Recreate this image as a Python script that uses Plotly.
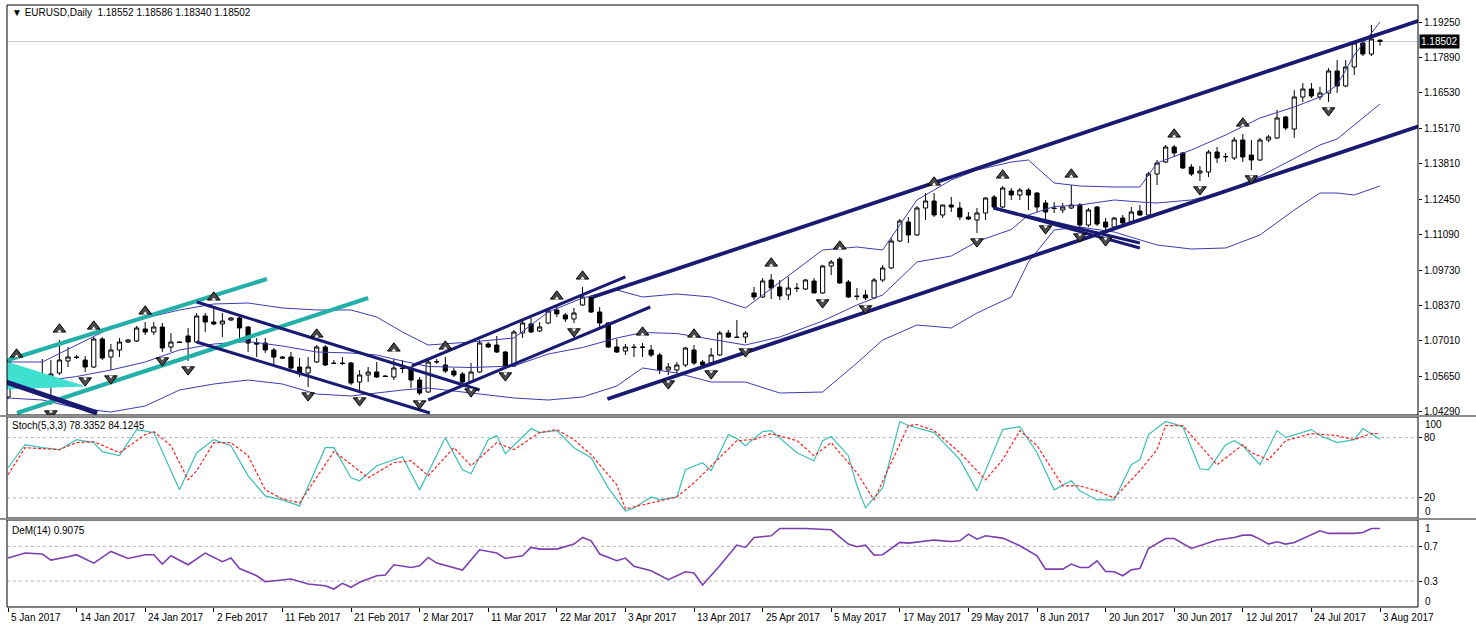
import plotly.graph_objects as go

# ---------------- data ----------------
date_labels = ["5 Jan 2017", "14 Jan 2017", "24 Jan 2017", "2 Feb 2017", "11 Feb 2017",
               "21 Feb 2017", "2 Mar 2017", "11 Mar 2017", "22 Mar 2017", "3 Apr 2017",
               "13 Apr 2017", "25 Apr 2017", "5 May 2017", "17 May 2017", "29 May 2017",
               "8 Jun 2017", "20 Jun 2017", "30 Jun 2017", "12 Jul 2017", "24 Jul 2017",
               "3 Aug 2017"]
date_tick_bars = [0, 8, 16, 24, 32, 40, 48, 56, 64, 72, 80, 88, 96, 104, 112, 120, 128, 136, 144, 152, 160]

opens = [
1.04854, 1.06045, 1.05392, 1.05353, 1.05699, 1.05622, 1.05776, 1.06237, 1.06390, 1.06275,
1.06006, 1.07082, 1.06390, 1.06659, 1.06966, 1.07005, 1.07466, 1.07350, 1.07542, 1.06774,
1.06966, 1.07197, 1.06966, 1.07965, 1.07734, 1.07658, 1.07811, 1.07888, 1.07542, 1.06928,
1.06928, 1.06659, 1.06390, 1.06390, 1.06006, 1.05776, 1.06198, 1.06774, 1.06160, 1.06160,
1.06160, 1.05430, 1.05699, 1.05814, 1.05661, 1.05622, 1.05968, 1.05968, 1.05507, 1.05046,
1.06198, 1.06083, 1.05853, 1.05737, 1.05430, 1.05814, 1.06889, 1.06851, 1.06582, 1.06045,
1.07312, 1.07658, 1.07389, 1.07696, 1.08195, 1.08003, 1.07850, 1.08387, 1.08694, 1.08118,
1.07696, 1.06774, 1.06621, 1.06774, 1.06755, 1.06659, 1.06467, 1.05891, 1.05891, 1.06083,
1.06659, 1.06198, 1.06160, 1.06467, 1.07312, 1.07158, 1.07158, 1.08848, 1.08694, 1.09346,
1.09078, 1.08771, 1.09039, 1.09001, 1.09308, 1.08848, 1.09884, 1.10152, 1.09270, 1.08733,
1.08771, 1.08656, 1.09346, 1.09807, 1.10843, 1.11572, 1.11074, 1.12110, 1.12379, 1.11841,
1.12225, 1.12110, 1.11764, 1.11649, 1.11918, 1.12532, 1.12148, 1.12763, 1.12609, 1.12801,
1.12686, 1.12302, 1.12110, 1.12033, 1.12110, 1.12225, 1.11457, 1.12148, 1.11572, 1.11380,
1.11726, 1.11572, 1.11995, 1.11841, 1.13415, 1.13876, 1.14452, 1.14222, 1.13684, 1.13454,
1.13492, 1.14260, 1.14069, 1.14030, 1.14721, 1.14145, 1.13953, 1.14721, 1.14798, 1.15603,
1.15143, 1.16371, 1.16678, 1.16371, 1.16525, 1.17370, 1.16794, 1.17523, 1.18444, 1.18022,
1.18552]

highs = [
1.06314, 1.06083, 1.05430, 1.05814, 1.06314, 1.06275, 1.07043, 1.06774, 1.06467, 1.06429,
1.07158, 1.07158, 1.06889, 1.07120, 1.07082, 1.07581, 1.07734, 1.07734, 1.07696, 1.07312,
1.07005, 1.07504, 1.08080, 1.08080, 1.08272, 1.08080, 1.07926, 1.08003, 1.07581, 1.07120,
1.07120, 1.06736, 1.06429, 1.06582, 1.06352, 1.06390, 1.06851, 1.06851, 1.06275, 1.06390,
1.06198, 1.05891, 1.06006, 1.06198, 1.05699, 1.06314, 1.06275, 1.06045, 1.05622, 1.06275,
1.06314, 1.06390, 1.05968, 1.05814, 1.06160, 1.07043, 1.06966, 1.07197, 1.06621, 1.07427,
1.07773, 1.07888, 1.07734, 1.08272, 1.08310, 1.08080, 1.08272, 1.09078, 1.08771, 1.08310,
1.07734, 1.07082, 1.06889, 1.06889, 1.06928, 1.06851, 1.06544, 1.06160, 1.06198, 1.06774,
1.06851, 1.06275, 1.06736, 1.07389, 1.07427, 1.07811, 1.07389, 1.09078, 1.09423, 1.09577,
1.09346, 1.09462, 1.09232, 1.09385, 1.09423, 1.09922, 1.10114, 1.10229, 1.09346, 1.09039,
1.08962, 1.09423, 1.09922, 1.10959, 1.11687, 1.11764, 1.12187, 1.12686, 1.12686, 1.12225,
1.12532, 1.12340, 1.11956, 1.12110, 1.12532, 1.12609, 1.12955, 1.12878, 1.12878, 1.12878,
1.12724, 1.12417, 1.12340, 1.12302, 1.12993, 1.12302, 1.12110, 1.12187, 1.11726, 1.11764,
1.11841, 1.12148, 1.12225, 1.13492, 1.13953, 1.14529, 1.14529, 1.14260, 1.13799, 1.13723,
1.14337, 1.14452, 1.14222, 1.14836, 1.14951, 1.14721, 1.14798, 1.14913, 1.15872, 1.15642,
1.16640, 1.16909, 1.16909, 1.16755, 1.17485, 1.17792, 1.17792, 1.18521, 1.18559, 1.19135,
1.18586]

lows = [
1.04778, 1.05238, 1.05238, 1.05161, 1.05238, 1.04548, 1.05699, 1.06006, 1.06314, 1.05814,
1.05968, 1.06275, 1.05891, 1.06390, 1.06928, 1.06966, 1.07235, 1.07235, 1.06582, 1.06582,
1.06928, 1.06237, 1.06928, 1.07350, 1.07619, 1.07158, 1.07773, 1.07120, 1.06582, 1.06390,
1.06544, 1.06083, 1.06314, 1.05929, 1.05622, 1.05238, 1.06160, 1.06045, 1.06121, 1.06083,
1.05315, 1.05046, 1.05430, 1.05584, 1.05622, 1.05507, 1.05776, 1.05200, 1.04931, 1.05008,
1.06121, 1.05776, 1.05622, 1.05277, 1.05392, 1.05776, 1.06736, 1.06544, 1.06006, 1.06006,
1.07120, 1.07312, 1.07350, 1.07658, 1.07926, 1.07734, 1.07696, 1.08349, 1.08080, 1.07542,
1.06736, 1.06544, 1.06467, 1.06390, 1.06390, 1.06390, 1.05737, 1.05699, 1.05776, 1.06006,
1.06083, 1.06006, 1.06083, 1.06429, 1.07120, 1.07120, 1.06928, 1.08579, 1.08656, 1.08617,
1.08579, 1.08579, 1.08886, 1.08962, 1.08848, 1.08810, 1.09538, 1.09193, 1.08656, 1.08579,
1.08579, 1.08617, 1.09270, 1.09768, 1.10805, 1.10766, 1.11036, 1.11649, 1.11764, 1.11726,
1.11956, 1.11649, 1.11649, 1.11151, 1.11649, 1.12110, 1.12110, 1.12417, 1.12417, 1.12033,
1.11956, 1.11649, 1.11918, 1.11918, 1.12071, 1.11342, 1.11380, 1.11419, 1.11189, 1.11342,
1.11496, 1.11534, 1.11803, 1.11803, 1.12993, 1.13838, 1.14069, 1.13607, 1.13339, 1.13147,
1.13300, 1.13838, 1.13876, 1.13953, 1.13876, 1.13569, 1.13915, 1.14644, 1.14760, 1.15105,
1.14798, 1.16179, 1.16333, 1.16256, 1.16179, 1.16525, 1.16755, 1.17216, 1.17945, 1.17945,
1.18340]

closes = [
1.06237, 1.05315, 1.05315, 1.05699, 1.05622, 1.05737, 1.06275, 1.06390, 1.06371, 1.06006,
1.07082, 1.06352, 1.06659, 1.06966, 1.07043, 1.07504, 1.07350, 1.07542, 1.06736, 1.06966,
1.06947, 1.06966, 1.07965, 1.07734, 1.07658, 1.07773, 1.07888, 1.07504, 1.06928, 1.06889,
1.06659, 1.06390, 1.06352, 1.05968, 1.05776, 1.06006, 1.06774, 1.06083, 1.06141, 1.06141,
1.05392, 1.05699, 1.05814, 1.05622, 1.05641, 1.05968, 1.05948, 1.05507, 1.05008, 1.06198,
1.06217, 1.05853, 1.05699, 1.05430, 1.05814, 1.06928, 1.06774, 1.06582, 1.06045, 1.07350,
1.07696, 1.07350, 1.07542, 1.08157, 1.08042, 1.07850, 1.08080, 1.08694, 1.08118, 1.07696,
1.06774, 1.06582, 1.06774, 1.06755, 1.06774, 1.06467, 1.05891, 1.06006, 1.06083, 1.06736,
1.06160, 1.06083, 1.06467, 1.07312, 1.07158, 1.07139, 1.07312, 1.08694, 1.09308, 1.09039,
1.08733, 1.09039, 1.09020, 1.09346, 1.08848, 1.09884, 1.10037, 1.09232, 1.08694, 1.08713,
1.08656, 1.09346, 1.09807, 1.10843, 1.11611, 1.11074, 1.12110, 1.12379, 1.11841, 1.12225,
1.12148, 1.11764, 1.11687, 1.11918, 1.12494, 1.12148, 1.12878, 1.12609, 1.12801, 1.12609,
1.12148, 1.11956, 1.12091, 1.12148, 1.12225, 1.11457, 1.12033, 1.11495, 1.11380, 1.11726,
1.11534, 1.11956, 1.11841, 1.13415, 1.13838, 1.14452, 1.14222, 1.13646, 1.13415, 1.13531,
1.14260, 1.14030, 1.14088, 1.14721, 1.14069, 1.13953, 1.14721, 1.14836, 1.15565, 1.15182,
1.16371, 1.16678, 1.16410, 1.16525, 1.17370, 1.16794, 1.17523, 1.18444, 1.18022, 1.18598,
1.18502]

assert len(opens) == len(highs) == len(lows) == len(closes) == 161
bars = list(range(len(closes)))

# Bollinger bands (read at sample bars)
bb_bars = [0, 4, 8, 12, 16, 20, 24, 28, 32, 36, 40, 43, 46, 49, 54, 59, 63, 67, 71, 74, 78, 82, 86, 90,
           95, 99, 102, 106, 110, 113, 117, 119, 122, 125, 129, 132, 134, 138, 142, 146, 150, 153, 155, 157, 160]
bb_upper = [1.06198, 1.06198, 1.06851, 1.07504, 1.07888, 1.08195, 1.08425, 1.08463, 1.08272, 1.08195,
            1.08195, 1.07926, 1.07350, 1.06851, 1.06966, 1.07120, 1.08118, 1.08656, 1.08962, 1.08694,
            1.08809, 1.08694, 1.08272, 1.09270, 1.10498, 1.10613, 1.10498, 1.12417, 1.13185, 1.13569,
            1.13876, 1.13953, 1.13070, 1.12955, 1.12916, 1.12916, 1.13838, 1.14337, 1.14913, 1.15565,
            1.15988, 1.16371, 1.16832, 1.17984, 1.19250]
bb_middle = [1.05507, 1.05469, 1.05641, 1.05891, 1.06198, 1.06659, 1.06889, 1.06985, 1.06813, 1.06582,
             1.06544, 1.06467, 1.06237, 1.06026, 1.05987, 1.06045, 1.06506, 1.06755, 1.07120, 1.07331,
             1.07293, 1.07062, 1.06851, 1.07158, 1.07773, 1.08387, 1.08771, 1.10037, 1.10268, 1.10824,
             1.11285, 1.11841, 1.12168, 1.12225, 1.12417, 1.12340, 1.12302, 1.12417, 1.12744, 1.13320,
             1.14011, 1.14529, 1.14759, 1.15297, 1.16103]
bb_lower = [1.04817, 1.04740, 1.04433, 1.04279, 1.04510, 1.05123, 1.05354, 1.05507, 1.05354, 1.04970,
            1.04893, 1.05008, 1.05123, 1.05200, 1.05008, 1.04817, 1.04740, 1.04855, 1.05277, 1.05968,
            1.05776, 1.05430, 1.05430, 1.05008, 1.05046, 1.06160, 1.07043, 1.07619, 1.07504, 1.08080,
            1.08694, 1.10037, 1.11266, 1.11381, 1.11189, 1.10882, 1.10690, 1.10536, 1.10575, 1.11074,
            1.12033, 1.12686, 1.12686, 1.12609, 1.12955]

# Fractals (bar indices)
fractal_up_bars = [1, 6, 10, 16, 24, 36, 45, 51, 64, 67, 74, 80, 89, 97, 108, 116, 124, 136, 144]
fractal_down_bars = [5, 9, 12, 18, 21, 35, 41, 48, 54, 58, 66, 77, 82, 86, 95, 100, 113, 121, 125,
                     128, 139, 145, 154]

# Trend lines: (bar0, price0, bar1, price1)
navy_long_lines = [
    (68.2, 1.08694, 166.0, 1.19462),   # long upper channel
    (69.9, 1.04778, 166.0, 1.15412),   # long lower channel
]
navy_lines = [
    (47.1, 1.06045, 72.0, 1.09462),    # March channel top
    (49.0, 1.04740, 74.9, 1.08310),    # March channel bottom
    (22.0, 1.08502, 55.0, 1.05123),    # February channel top
    (22.0, 1.06966, 49.2, 1.04241),    # February channel bottom
    (115.0, 1.12109, 132.0, 1.10574),  # June flag top
    (114.9, 1.12110, 132.0, 1.10767),  # June flag bottom
]
navy_thick_line = (-0.2, 1.05430, 10.4, 1.04241)
teal_lines = [
    (0.0, 1.06275, 30.2, 1.09385),
    (1.05, 1.04241, 42.0, 1.08656),
]
teal_triangle_bars = [-0.2, 8.75, -0.2]
teal_triangle_prices = [1.06198, 1.05277, 1.05161]

# Stochastic (5,3,3)
stoch_k_bars = [0, 2, 4, 6, 8, 10, 11, 13, 15, 17, 20, 22, 24, 26, 28, 30, 32, 34, 37, 38, 40, 41, 43, 46,
                48, 51, 53, 54, 56, 57, 58, 59, 61, 62, 64, 66, 68, 70, 72, 73, 75, 76, 78, 79, 81, 82,
                84, 85, 86, 88, 89, 92, 94, 95, 96, 98, 99, 100, 102, 104, 105, 108, 111, 113, 116, 118,
                120, 122, 124, 125, 127, 129, 131, 132, 133, 135, 137, 139, 140, 142, 143, 144, 146, 148,
                149, 152, 153, 155, 157, 158, 160]
stoch_k = [50, 73, 70, 68, 78, 75, 66, 62, 88, 85, 28, 65, 78, 72, 42, 22, 18, 12, 70, 70, 40, 37, 52, 61,
           28, 80, 48, 44, 78, 82, 64, 72, 89, 85, 87, 70, 60, 30, 7, 10, 21, 18, 21, 48, 55, 47,
           83, 79, 72, 86, 87, 65, 57, 77, 81, 62, 32, 10, 30, 96, 92, 85, 58, 27, 88, 91,
           65, 28, 37, 27, 18, 18, 53, 58, 83, 96, 91, 49, 48, 73, 77, 72, 53, 87,
           80, 88, 82, 75, 78, 89, 78.3352]
stoch_d_bars = [0, 2, 6, 8, 10, 13, 16, 17, 19, 21, 22, 24, 26, 28, 30, 32, 34, 38, 39, 42, 45, 47, 49, 52,
                54, 57, 59, 62, 64, 66, 68, 71, 72, 75, 78, 80, 82, 85, 87, 89, 92, 94, 96, 99, 101, 103,
                105, 106, 108, 111, 114, 116, 118, 120, 123, 125, 127, 129, 132, 134, 135, 137, 139, 141,
                144, 145, 147, 149, 152, 155, 157, 159, 160]
stoch_d = [43, 70, 68, 75, 76, 65, 83, 86, 72, 38, 47, 75, 75, 62, 28, 19, 15, 66, 60, 40, 55, 57, 42, 70,
           52, 75, 68, 85, 88, 78, 63, 33, 9, 15, 21, 35, 52, 77, 78, 84, 77, 62, 75, 45, 18, 55,
           92, 93, 87, 65, 38, 58, 87, 72, 32, 32, 27, 20, 47, 68, 92, 92, 72, 53,
           73, 65, 58, 77, 84, 82, 78, 84, 84.1245]

# DeMarker (14)
dem_bars = [0, 2, 4, 5, 7, 8, 10, 12, 14, 16, 17, 18, 19, 21, 23, 25, 26, 27, 29, 30, 33, 35, 37, 38, 39,
            40, 41, 43, 44, 45, 47, 48, 49, 50, 53, 55, 57, 58, 60, 61, 62, 64, 66, 67, 68, 69, 71, 72,
            73, 75, 77, 79, 80, 81, 83, 85, 86, 87, 89, 90, 93, 96, 98, 99, 100, 101, 102, 104, 105,
            108, 110, 111, 112, 113, 114, 116, 118, 120, 121, 123, 124, 125, 126, 127, 128, 129, 130,
            131, 132, 133, 135, 136, 138, 140, 141, 143, 144, 145, 146, 147, 148, 149, 150, 153, 154,
            157, 158, 159, 160]
dem = [0.565, 0.623, 0.612, 0.542, 0.581, 0.604, 0.507, 0.642, 0.561, 0.604, 0.604, 0.496, 0.592, 0.488,
       0.623, 0.523, 0.565, 0.445, 0.361, 0.292, 0.323, 0.265, 0.246, 0.208, 0.273, 0.227, 0.285, 0.361,
       0.369, 0.488, 0.457, 0.477, 0.573, 0.507, 0.426, 0.661, 0.623, 0.561, 0.592, 0.688, 0.669, 0.669,
       0.727, 0.803, 0.765, 0.612, 0.534, 0.565, 0.469, 0.419, 0.315, 0.407, 0.392, 0.254, 0.477, 0.715,
       0.688, 0.803, 0.823, 0.907, 0.907, 0.892, 0.727, 0.696, 0.715, 0.600, 0.604, 0.746, 0.738, 0.773,
       0.757, 0.765, 0.842, 0.784, 0.823, 0.796, 0.708, 0.592, 0.438, 0.438, 0.496, 0.457, 0.457, 0.534,
       0.411, 0.407, 0.361, 0.430, 0.445, 0.676, 0.792, 0.792, 0.676, 0.746, 0.773, 0.803, 0.830, 0.830,
       0.784, 0.727, 0.754, 0.727, 0.746, 0.880, 0.850, 0.850, 0.861, 0.907, 0.9075]

price_ticks = [1.19250, 1.17890, 1.16530, 1.15170, 1.13810, 1.12450, 1.11090, 1.09730,
               1.08370, 1.07010, 1.05650, 1.04290]
last_price = 1.18502
title_text = "\u25BC EURUSD,Daily  1.18552 1.18586 1.18340 1.18502"
stoch_title = "Stoch(5,3,3) 78.3352 84.1245"
dem_title = "DeM(14) 0.9075"

# ---------------- figure ----------------
FONT = "Liberation Sans, DejaVu Sans, sans-serif"
NAVY = "#1a1a72"
TEAL = "#22b0a8"
BAND = "#3c3cb4"

W, H = 1476, 627
ML, MR, MT, MB = 7, 58, 5, 20
plot_h = H - MT - MB


def pdom(top_px, bot_px):
    return [(H - MB - bot_px) / plot_h, (H - MB - top_px) / plot_h]


main_dom = pdom(5, 415)
stoch_dom = pdom(417, 518)
dem_dom = pdom(520, 607)

fig = go.Figure()

for arr in (bb_upper, bb_middle, bb_lower):
    fig.add_trace(go.Scatter(x=bb_bars, y=arr, mode="lines", line=dict(color=BAND, width=1),
                             xaxis="x", yaxis="y", hoverinfo="skip", showlegend=False))

fig.add_trace(go.Scatter(x=teal_triangle_bars, y=teal_triangle_prices, fill="toself",
                         fillcolor="#3fe0d0", line=dict(color="#3fe0d0", width=1), mode="lines",
                         xaxis="x", yaxis="y", hoverinfo="skip", showlegend=False))

for (b0, p0, b1, p1) in teal_lines:
    fig.add_trace(go.Scatter(x=[b0, b1], y=[p0, p1], mode="lines", line=dict(color=TEAL, width=4.2),
                             xaxis="x", yaxis="y", hoverinfo="skip", showlegend=False))
for (b0, p0, b1, p1) in navy_long_lines:
    fig.add_trace(go.Scatter(x=[b0, b1], y=[p0, p1], mode="lines", line=dict(color=NAVY, width=3.8),
                             xaxis="x", yaxis="y", hoverinfo="skip", showlegend=False))
for (b0, p0, b1, p1) in navy_lines:
    fig.add_trace(go.Scatter(x=[b0, b1], y=[p0, p1], mode="lines", line=dict(color=NAVY, width=3),
                             xaxis="x", yaxis="y", hoverinfo="skip", showlegend=False))
b0, p0, b1, p1 = navy_thick_line
fig.add_trace(go.Scatter(x=[b0, b1], y=[p0, p1], mode="lines", line=dict(color=NAVY, width=5),
                         xaxis="x", yaxis="y", hoverinfo="skip", showlegend=False))

fig.add_trace(go.Candlestick(x=bars, open=opens, high=highs, low=lows, close=closes,
                             increasing=dict(line=dict(color="black", width=1), fillcolor="white"),
                             decreasing=dict(line=dict(color="black", width=1), fillcolor="black"),
                             whiskerwidth=0, xaxis="x", yaxis="y", showlegend=False, hoverinfo="skip"))

# fractal glyphs: dark arrowheads with a small notch
up_off, dn_off = 0.0041, 0.0033
notch = 0.0008
up_y = [highs[i] + up_off for i in fractal_up_bars]
dn_y = [lows[i] - dn_off for i in fractal_down_bars]
fig.add_trace(go.Scatter(x=fractal_up_bars, y=up_y, mode="markers",
                         marker=dict(symbol="triangle-up", size=11, color="#4a4a4a",
                                     line=dict(color="#000000", width=1)),
                         xaxis="x", yaxis="y", hoverinfo="skip", showlegend=False))
fig.add_trace(go.Scatter(x=fractal_up_bars, y=[v - notch for v in up_y], mode="markers",
                         marker=dict(symbol="triangle-up", size=4, color="white", line=dict(width=0)),
                         xaxis="x", yaxis="y", hoverinfo="skip", showlegend=False))
fig.add_trace(go.Scatter(x=fractal_down_bars, y=dn_y, mode="markers",
                         marker=dict(symbol="triangle-down", size=11, color="#4a4a4a",
                                     line=dict(color="#000000", width=1)),
                         xaxis="x", yaxis="y", hoverinfo="skip", showlegend=False))
fig.add_trace(go.Scatter(x=fractal_down_bars, y=[v + notch for v in dn_y], mode="markers",
                         marker=dict(symbol="triangle-down", size=4, color="white", line=dict(width=0)),
                         xaxis="x", yaxis="y", hoverinfo="skip", showlegend=False))

fig.add_trace(go.Scatter(x=stoch_k_bars, y=stoch_k, mode="lines", line=dict(color="#3cc0b4", width=1.2),
                         xaxis="x", yaxis="y2", hoverinfo="skip", showlegend=False))
fig.add_trace(go.Scatter(x=stoch_d_bars, y=stoch_d, mode="lines",
                         line=dict(color="#ff2020", width=1.2, dash="3px,2px"),
                         xaxis="x", yaxis="y2", hoverinfo="skip", showlegend=False))

fig.add_trace(go.Scatter(x=dem_bars, y=dem, mode="lines", line=dict(color="#7b3fb0", width=1.6),
                         xaxis="x", yaxis="y3", hoverinfo="skip", showlegend=False))

shapes = []
for lv in (20, 80):
    shapes.append(dict(type="line", xref="paper", x0=0, x1=1, yref="y2", y0=lv, y1=lv,
                       line=dict(color="#b4b4b4", width=1, dash="3px,3px"), layer="below"))
for lv in (0.3, 0.7):
    shapes.append(dict(type="line", xref="paper", x0=0, x1=1, yref="y3", y0=lv, y1=lv,
                       line=dict(color="#b4b4b4", width=1, dash="3px,3px"), layer="below"))
shapes.append(dict(type="line", xref="paper", x0=0, x1=1, yref="y", y0=last_price, y1=last_price,
                   line=dict(color="#c8c8c8", width=1), layer="below"))
for dom in (main_dom, stoch_dom, dem_dom):
    shapes.append(dict(type="rect", xref="paper", yref="paper", x0=0, x1=1, y0=dom[0], y1=dom[1],
                       line=dict(color="#000000", width=1), fillcolor="rgba(0,0,0,0)"))
for ytop, ybot in ((415, 417), (518, 520)):
    shapes.append(dict(type="rect", xref="paper", yref="paper", x0=-ML / (W - ML - MR),
                       x1=1 + MR / (W - ML - MR),
                       y0=(H - MB - ybot) / plot_h, y1=(H - MB - ytop) / plot_h,
                       line=dict(width=0), fillcolor="#8c8c8c"))

annotations = []
annotations.append(dict(text=title_text, xref="paper", yref="paper", x=0.002,
                        y=(H - MB - 13) / plot_h, xanchor="left", yanchor="middle", showarrow=False,
                        font=dict(family=FONT, size=10, color="black")))
annotations.append(dict(text=stoch_title, xref="paper", yref="paper", x=0.002,
                        y=(H - MB - 425) / plot_h, xanchor="left", yanchor="middle", showarrow=False,
                        font=dict(family=FONT, size=10, color="black")))
annotations.append(dict(text=dem_title, xref="paper", yref="paper", x=0.002,
                        y=(H - MB - 530) / plot_h, xanchor="left", yanchor="middle", showarrow=False,
                        font=dict(family=FONT, size=10, color="black")))
annotations.append(dict(text=f"{last_price:.5f}", xref="paper", yref="y", x=1, y=last_price,
                        xanchor="left", yanchor="middle", xshift=1, showarrow=False, bgcolor="black",
                        borderpad=1, font=dict(family=FONT, size=10, color="white")))
for txt, ypx in (("100", 424), ("0", 511), ("1", 528), ("0", 601)):
    annotations.append(dict(text=txt, xref="paper", yref="paper", x=1, xshift=5,
                            y=(H - MB - ypx) / plot_h, xanchor="left", yanchor="middle",
                            showarrow=False, font=dict(family=FONT, size=10, color="black")))
for b, lab in zip(date_tick_bars, date_labels):
    annotations.append(dict(text=lab, xref="x", yref="paper", x=b, xshift=1,
                            y=(H - MB - 617) / plot_h, xanchor="left", yanchor="middle",
                            showarrow=False, font=dict(family=FONT, size=10, color="black")))

x0_bar, bar_px = 8.0, 8.575
fig.update_layout(
    width=W, height=H,
    margin=dict(l=ML, r=MR, t=MT, b=MB),
    paper_bgcolor="white", plot_bgcolor="white",
    showlegend=False,
    xaxis=dict(domain=[0, 1], anchor="y3", range=[(ML - x0_bar) / bar_px, (W - MR - x0_bar) / bar_px],
               showgrid=False, zeroline=False, showline=False, ticks="outside", ticklen=4,
               tickcolor="black", tickvals=date_tick_bars, showticklabels=False,
               rangeslider=dict(visible=False)),
    yaxis=dict(domain=main_dom, anchor="x", side="right", range=[1.04164, 1.19903],
               tickvals=price_ticks, ticktext=[f"{v:.5f}" for v in price_ticks],
               ticks="outside", ticklen=3, tickcolor="black", showgrid=False, zeroline=False,
               tickfont=dict(family=FONT, size=10, color="black")),
    yaxis2=dict(domain=stoch_dom, anchor="x", side="right", range=[0, 100.5],
                tickvals=[20, 80], ticktext=["20", "80"], ticks="outside", ticklen=3,
                tickcolor="black", showgrid=False, zeroline=False,
                tickfont=dict(family=FONT, size=10, color="black")),
    yaxis3=dict(domain=dem_dom, anchor="x", side="right", range=[0, 1.005],
                tickvals=[0.3, 0.7], ticktext=["0.3", "0.7"], ticks="outside", ticklen=3,
                tickcolor="black", showgrid=False, zeroline=False,
                tickfont=dict(family=FONT, size=10, color="black")),
    shapes=shapes, annotations=annotations,
)

fig.write_html("out.html", config={"displayModeBar": False, "staticPlot": True},
               post_script="document.body.style.margin='0px';document.body.style.overflow='hidden';")
